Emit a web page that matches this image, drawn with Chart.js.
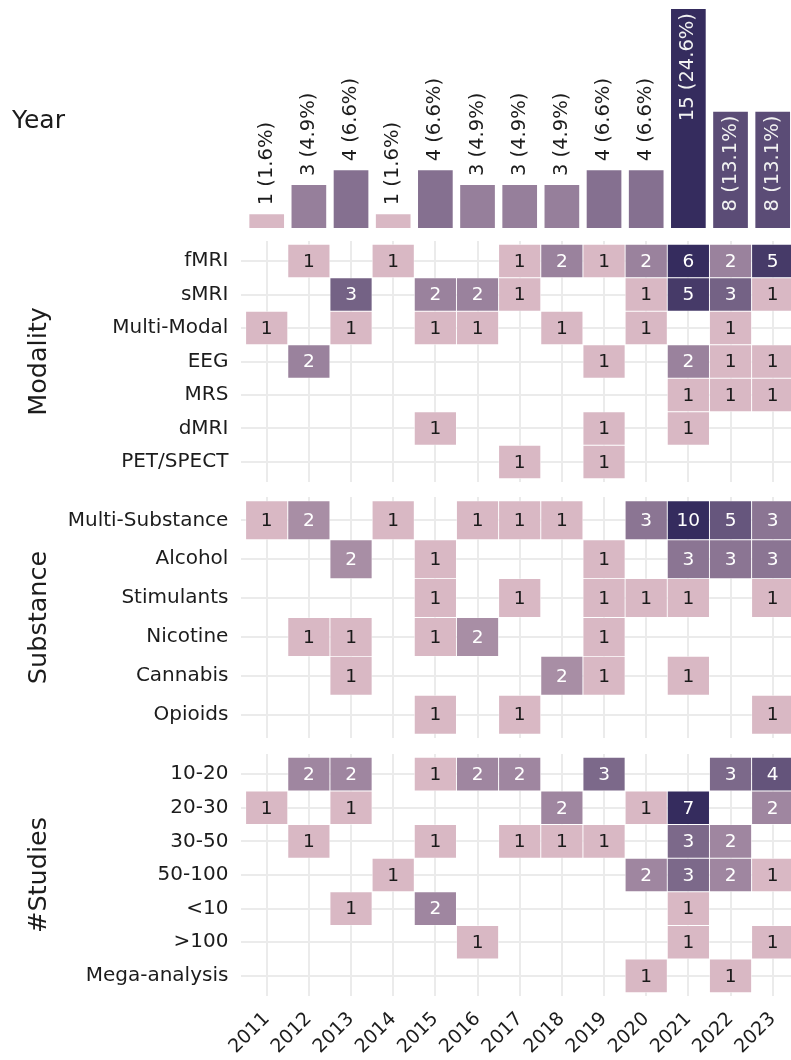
<!DOCTYPE html>
<html>
<head>
<meta charset="utf-8">
<script src="https://cdn.jsdelivr.net/npm/chart.js@4.4.1/dist/chart.umd.min.js"></script>
<style>
  html, body { margin: 0; padding: 0; background: #fff; overflow: hidden; width: 791px; height: 1060px; }
  canvas { position: absolute; left: 0; }
</style>
</head>
<body>
<canvas id="yearChart" width="798" height="228" style="top:0px"></canvas>
<canvas id="modalityChart" width="798" height="241" style="top:241px"></canvas>
<canvas id="substanceChart" width="798" height="241" style="top:497px"></canvas>
<canvas id="studiesChart" width="798" height="306" style="top:754px"></canvas>
<script>
// values
const years = [2011, 2012, 2013, 2014, 2015, 2016, 2017, 2018, 2019, 2020, 2021, 2022, 2023]
const yearTotals = [1, 3, 4, 1, 4, 3, 3, 3, 4, 4, 15, 8, 8]

const modalityRows = ["fMRI", "sMRI", "Multi-Modal", "EEG", "MRS", "dMRI", "PET/SPECT"]
const modalityCounts = [
  [0, 1, 0, 1, 0, 0, 1, 2, 1, 2, 6, 2, 5],
  [0, 0, 3, 0, 2, 2, 1, 0, 0, 1, 5, 3, 1],
  [1, 0, 1, 0, 1, 1, 0, 1, 0, 1, 0, 1, 0],
  [0, 2, 0, 0, 0, 0, 0, 0, 1, 0, 2, 1, 1],
  [0, 0, 0, 0, 0, 0, 0, 0, 0, 0, 1, 1, 1],
  [0, 0, 0, 0, 1, 0, 0, 0, 1, 0, 1, 0, 0],
  [0, 0, 0, 0, 0, 0, 1, 0, 1, 0, 0, 0, 0]
]

const substanceRows = ["Multi-Substance", "Alcohol", "Stimulants", "Nicotine", "Cannabis", "Opioids"]
const substanceCounts = [
  [1, 2, 0, 1, 0, 1, 1, 1, 0, 3, 10, 5, 3],
  [0, 0, 2, 0, 1, 0, 0, 0, 1, 0, 3, 3, 3],
  [0, 0, 0, 0, 1, 0, 1, 0, 1, 1, 1, 0, 1],
  [0, 1, 1, 0, 1, 2, 0, 0, 1, 0, 0, 0, 0],
  [0, 0, 1, 0, 0, 0, 0, 2, 1, 0, 1, 0, 0],
  [0, 0, 0, 0, 1, 0, 1, 0, 0, 0, 0, 0, 1]
]

const studiesRows = ["10-20", "20-30", "30-50", "50-100", "<10", ">100", "Mega-analysis"]
const studiesCounts = [
  [0, 2, 2, 0, 1, 2, 2, 0, 3, 0, 0, 3, 4],
  [1, 0, 1, 0, 0, 0, 0, 2, 0, 1, 7, 0, 2],
  [0, 1, 0, 0, 1, 0, 1, 1, 1, 0, 3, 2, 0],
  [0, 0, 0, 1, 0, 0, 0, 0, 0, 2, 3, 2, 1],
  [0, 0, 1, 0, 2, 0, 0, 0, 0, 0, 1, 0, 0],
  [0, 0, 0, 0, 0, 1, 0, 0, 0, 0, 1, 0, 1],
  [0, 0, 0, 0, 0, 0, 0, 0, 0, 1, 0, 1, 0]
]

const FONT = "'DejaVu Sans', sans-serif"
const TEXT = "#1c1c1c"
const GRID = "#ebebeb"
const lowColor = [217, 184, 196]
const highColor = [53, 44, 94]
const PANEL_LEFT = 241.4

Chart.defaults.font.family = FONT
Chart.defaults.color = TEXT

// log-scaled gradient, light pink at 1 up to navy at the panel max
function fillFor(v, maxV) {
  const t = maxV > 1 ? Math.log(v) / Math.log(maxV) : 0
  const c = lowColor.map((a, i) => Math.round(a + (highColor[i] - a) * t))
  return "rgb(" + c.join(",") + ")"
}

const totalStudies = yearTotals.reduce((a, b) => a + b, 0)
const maxTotal = Math.max(...yearTotals)

const yearScaleX = {
  type: "linear",
  min: 2010.4,
  max: 2023.6,
  offset: false,
  afterBuildTicks: (s) => { s.ticks = years.map((y) => ({ value: y })) }
}

const barLabels = {
  id: "barLabels",
  afterDatasetsDraw(chart) {
    const ctx = chart.ctx
    const meta = chart.getDatasetMeta(0)
    ctx.save()
    ctx.font = "19.5px " + FONT
    ctx.textBaseline = "middle"
    meta.data.forEach((bar, i) => {
      const n = yearTotals[i]
      const label = n + " (" + (n / totalStudies * 100).toFixed(1) + "%)"
      const h = bar.base - bar.y
      const inside = ctx.measureText(label).width + 12 < h
      ctx.save()
      ctx.translate(bar.x, inside ? bar.y + 5 : bar.y - 8)
      ctx.rotate(-Math.PI / 2)
      ctx.textAlign = inside ? "right" : "left"
      ctx.fillStyle = inside ? "#f2f2f2" : TEXT
      ctx.fillText(label, 0, 0)
      ctx.restore()
    })
    ctx.font = "25px " + FONT
    ctx.fillStyle = TEXT
    ctx.textAlign = "left"
    ctx.textBaseline = "alphabetic"
    ctx.fillText("Year", 12, 128)
    ctx.restore()
  }
}

new Chart(document.getElementById("yearChart"), {
  type: "bar",
  data: {
    datasets: [{
      data: years.map((y, i) => ({ x: y, y: yearTotals[i] })),
      backgroundColor: (c) => fillFor(c.raw.y, maxTotal),
      borderColor: "rgba(255,255,255,0.45)",
      borderWidth: 1,
      borderSkipped: "start",
      barPercentage: 0.87,
      categoryPercentage: 1
    }]
  },
  options: {
    responsive: false,
    animation: false,
    devicePixelRatio: 1,
    layout: { padding: { left: PANEL_LEFT, right: 0, top: 0, bottom: 0 } },
    plugins: { legend: { display: false }, tooltip: { enabled: false } },
    scales: {
      x: Object.assign({}, yearScaleX, { display: false, grid: { offset: false } }),
      y: { min: 0, max: 15.55, display: false }
    }
  },
  plugins: [barLabels]
})

const cellLabels = {
  id: "cellLabels",
  afterDatasetsDraw(chart) {
    const ctx = chart.ctx
    const meta = chart.getDatasetMeta(0)
    const cells = chart.data.datasets[0].data
    ctx.save()
    ctx.font = "18.5px " + FONT
    ctx.textAlign = "center"
    ctx.textBaseline = "middle"
    meta.data.forEach((el, i) => {
      const v = cells[i].v
      const p = el.getCenterPoint()
      ctx.fillStyle = v > 1 ? "#ffffff" : "#1a1a1a"
      ctx.fillText(String(v), p.x, p.y + 1)
    })
    ctx.restore()
  }
}

function makeHeatmap(id, rows, counts, title, showYears, axisHeight) {
  const maxV = Math.max(...counts.flat())
  const cells = []
  counts.forEach((row, r) => {
    row.forEach((v, c) => {
      if (v > 0) cells.push({ x: years[c], y: [r - 0.5, r + 0.5], v: v })
    })
  })
  return new Chart(document.getElementById(id), {
    type: "bar",
    data: {
      datasets: [{
        data: cells,
        backgroundColor: (c) => fillFor(c.raw.v, maxV),
        borderColor: "rgba(255,255,255,0.55)",
        borderWidth: 0.8,
        borderSkipped: false,
        barPercentage: 1,
        categoryPercentage: 1
      }]
    },
    options: {
      responsive: false,
      animation: false,
      devicePixelRatio: 1,
      layout: { padding: 0 },
      plugins: { legend: { display: false }, tooltip: { enabled: false } },
      scales: {
        x: Object.assign({}, yearScaleX, {
          position: "bottom",
          afterFit: (s) => {
            s.height = axisHeight
            s.paddingLeft = 0
            s.paddingRight = 0
          },
          grid: { color: GRID, lineWidth: 2, drawTicks: false, offset: false },
          border: { display: false },
          ticks: {
            display: showYears,
            autoSkip: false,
            minRotation: 45,
            maxRotation: 45,
            padding: 12,
            color: TEXT,
            font: { size: 19 },
            callback: (v) => String(v)
          }
        }),
        y: {
          type: "linear",
          reverse: true,
          min: -0.6,
          max: rows.length - 0.4,
          afterBuildTicks: (s) => { s.ticks = rows.map((_, i) => ({ value: i })) },
          afterFit: (s) => {
            s.width = PANEL_LEFT
            s.paddingTop = 0
            s.paddingBottom = 0
          },
          grid: { color: GRID, lineWidth: 2, drawTicks: false },
          border: { display: false },
          ticks: {
            autoSkip: false,
            padding: 13,
            color: TEXT,
            font: { size: 20 },
            callback: (v) => rows[v]
          },
          title: {
            display: true,
            text: title,
            color: TEXT,
            font: { size: 25.5, lineHeight: 1 },
            padding: { top: 27, bottom: 0 }
          }
        }
      }
    },
    plugins: [cellLabels]
  })
}

makeHeatmap("modalityChart", modalityRows, modalityCounts, "Modality", false, 0)
makeHeatmap("substanceChart", substanceRows, substanceCounts, "Substance", false, 0)
makeHeatmap("studiesChart", studiesRows, studiesCounts, "#Studies", true, 64)
</script>
</body>
</html>
